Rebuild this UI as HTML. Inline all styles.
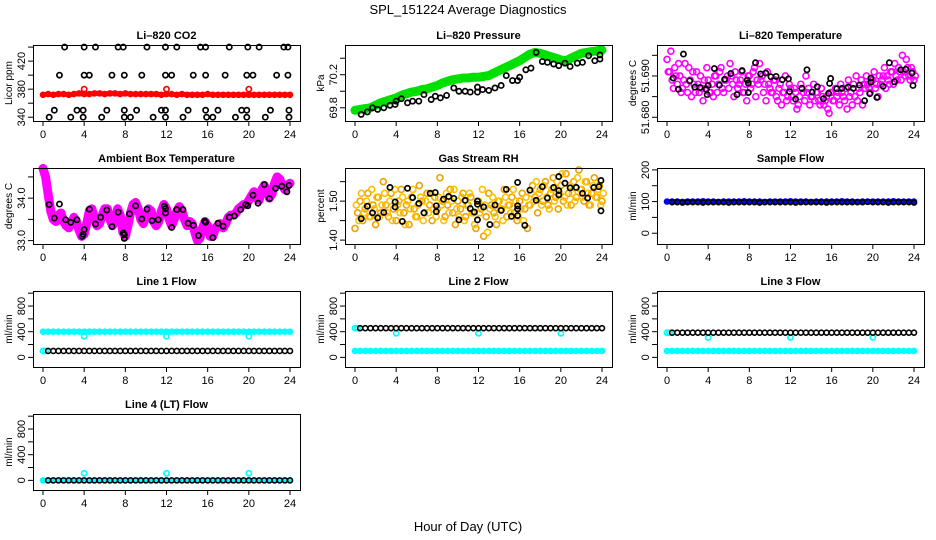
<!DOCTYPE html>
<html><head><meta charset="utf-8">
<style>
html,body{margin:0;padding:0;background:#fff;}
svg{display:block;font-family:"Liberation Sans",Arial,sans-serif;}
</style></head>
<body>
<svg id="chart" width="936" height="540" viewBox="0 0 936 540" xmlns="http://www.w3.org/2000/svg">
<text x="468" y="14" font-size="13" text-anchor="middle">SPL_151224  Average Diagnostics</text>
<text x="468" y="531" font-size="13" text-anchor="middle">Hour of Day (UTC)</text>
</svg>
<script>
// ---------- data ----------
const hourTicks = [0,4,8,12,16,20,24];

const co2Red = [372,373,372,373,373,372,373,374,373,373,374,374,373,374,374,373,374,373,373,373,373,373,373,372,373,373,372,373,372,372,372,372,373,372,372,372,372,372,372,372,372,372,372,372,372,372,372,372,372];
const co2RedOutX = [4,12,20];
const co2RedOutY = [380,380,380];
const co2BlackX = [2.1,4,5.1,7.3,7.8,10.1,11.9,13,15.3,15.8,18.1,19.9,21,23.4,23.8, 1.6,4,4.5,6.7,7.9,9.6,11.9,12.5,14.6,15.8,17.7,19.8,20.4,22.7,23.8, 1.1,3.3,3.9,6.2,7.9,9.1,11.5,11.9,14.1,15.8,17,19.3,19.8,22.1,23.9, 0.6,2.7,3.9,5.7,7.9,8.5,10.7,11.9,13.6,15.9,16.5,18.7,19.8,21.6,23.9];
const co2BlackY = [440,440,440,440,440,440,440,440,440,440,440,440,440,440,440, 400,400,400,400,400,400,400,400,400,400,400,400,400,400,400, 350,350,350,350,350,350,350,350,350,350,350,350,350,350,350, 340,340,340,340,340,340,340,340,340,340,340,340,340,340,340];

const presGreen = [69.77,69.78,69.79,69.80,69.83,69.86,69.88,69.90,69.92,69.95,69.97,69.99,70.00,70.02,70.03,70.05,70.07,70.10,70.12,70.14,70.15,70.16,70.16,70.17,70.17,70.18,70.19,70.22,70.25,70.28,70.31,70.34,70.37,70.41,70.45,70.47,70.46,70.44,70.42,70.40,70.38,70.37,70.40,70.43,70.46,70.47,70.48,70.49,70.50];
const presBlackX = [0.6,1.2,1.7,2.2,2.8,3.4,3.9,4.0,4.5,5.1,5.6,6.2,6.7,7.4,7.8,8.3,8.9,9.6,10.1,10.7,11.2,11.9,11.9,12.4,13.0,13.6,14.2,14.7,15.3,15.8,16.0,16.6,17.1,17.6,18.2,18.7,19.3,19.8,20.4,20.9,21.6,22.1,22.7,23.3,23.8,23.8];
const presBlackY = [69.72,69.75,69.80,69.78,69.80,69.83,69.84,69.88,69.91,69.86,69.88,69.88,69.96,69.90,69.94,69.92,69.95,70.04,70.00,70.00,69.99,69.99,70.05,70.02,70.01,70.04,70.07,70.19,70.13,70.13,70.17,70.26,70.28,70.47,70.36,70.35,70.33,70.31,70.34,70.30,70.34,70.35,70.43,70.37,70.39,70.44];

const tempMag = [51.694,51.691,51.689,51.692,51.688,51.690,51.687,51.693,51.686,51.689,51.691,51.686,51.688,51.690,51.684,51.687,51.689,51.686,51.685,51.690,51.688,51.692,51.686,51.689,51.687,51.690,51.685,51.689,51.688,51.691,51.686,51.684,51.690,51.688,51.692,51.689,51.693,51.690,51.688,51.691,51.687,51.686,51.689,51.684,51.688,51.686,51.690,51.685,51.687,51.684,51.686,51.683,51.688,51.686,51.690,51.687,51.685,51.688,51.686,51.684,51.687,51.683,51.685,51.681,51.686,51.684,51.685,51.683,51.686,51.684,51.682,51.685,51.683,51.685,51.684,51.686,51.683,51.687,51.688,51.686,51.689,51.687,51.685,51.688,51.690,51.687,51.689,51.691,51.688,51.690,51.692,51.689,51.691,51.694,51.690,51.692,51.689];
const tempMag2 = [51.691,51.696,51.687,51.690,51.693,51.686,51.689,51.688,51.692,51.685,51.688,51.691,51.686,51.687,51.689,51.692,51.686,51.688,51.690,51.686,51.691,51.687,51.689,51.690,51.693,51.688,51.691,51.687,51.689,51.686,51.688,51.690,51.687,51.691,51.685,51.688,51.689,51.686,51.684,51.688,51.686,51.689,51.685,51.687,51.683,51.686,51.684,51.688,51.685,51.687,51.682,51.685,51.687,51.684,51.686,51.683,51.685,51.684,51.686,51.683,51.685,51.684,51.682,51.686,51.684,51.687,51.686,51.688,51.685,51.687,51.689,51.686,51.688,51.690,51.687,51.689,51.688,51.690,51.687,51.689,51.691,51.688,51.690,51.689,51.692,51.690,51.688,51.691,51.693,51.689,51.691,51.695,51.690,51.692,51.689,51.691,51.690];
const tempBlackX = [0.6,1.1,1.6,2.2,2.7,3.2,3.8,3.9,4.0,4.6,5.1,5.6,6.2,6.8,7.3,7.8,7.9,7.9,8.6,9.1,9.6,10.1,10.6,11.2,11.8,11.9,12.5,13.1,13.6,14.1,14.6,15.2,15.7,15.8,15.9,16.5,17.0,17.6,18.1,18.7,19.2,19.7,19.8,19.8,20.4,21.0,21.6,22.1,22.7,23.2,23.8,23.9];
const tempBlackY = [51.6895,51.6868,51.6953,51.6888,51.6873,51.6872,51.6868,51.6855,51.6877,51.6918,51.6878,51.6892,51.6906,51.6855,51.6913,51.6890,51.6860,51.6883,51.6932,51.6905,51.6907,51.6898,51.6899,51.6891,51.6893,51.6862,51.6844,51.6870,51.6915,51.6861,51.6874,51.6845,51.6858,51.6882,51.6894,51.6869,51.6870,51.6873,51.6870,51.6878,51.6840,51.6857,51.6895,51.6885,51.6848,51.6875,51.6932,51.6886,51.6915,51.6916,51.6907,51.6877];

const ambMag = [34.7,34.5,34.1,33.7,33.5,33.45,33.6,33.65,33.45,33.35,33.3,33.4,33.55,33.45,33.25,33.1,33.15,33.4,33.7,33.75,33.5,33.35,33.4,33.6,33.75,33.75,33.5,33.35,33.5,33.75,33.6,33.2,33.1,33.35,33.65,33.85,33.9,33.75,33.5,33.4,33.55,33.75,33.7,33.45,33.35,33.45,33.7,33.85,33.75,33.5,33.35,33.5,33.7,33.8,33.7,33.5,33.35,33.45,33.4,33.2,33.0,33.05,33.3,33.45,33.35,33.1,33.1,33.3,33.35,33.4,33.3,33.4,33.55,33.6,33.6,33.65,33.75,33.8,33.85,33.85,33.95,34.05,34.15,34.0,33.95,34.2,34.3,34.15,34.0,34.1,34.35,34.5,34.45,34.3,34.2,34.3,34.35];
const ambBlackX = [0.6,1.1,1.6,2.2,2.7,3.3,3.8,3.9,4.0,4.5,5.1,5.6,6.2,6.7,7.3,7.8,7.9,7.9,8.4,9.0,9.6,10.1,10.6,11.2,11.8,11.9,11.9,12.5,13.0,13.6,14.1,14.6,15.1,15.7,15.8,16.5,17.0,17.5,18.1,18.6,19.2,19.7,19.9,20.4,20.9,21.5,22.0,22.6,23.2,23.7,23.9];
const ambBlackY = [33.85,33.53,33.86,33.49,33.43,33.49,33.10,33.15,33.26,33.74,33.39,33.55,33.72,33.33,33.67,33.18,33.05,33.14,33.63,33.82,33.51,33.74,33.47,33.49,33.81,33.75,33.65,33.31,33.73,33.73,33.41,33.36,33.12,33.46,33.43,33.07,33.41,33.34,33.55,33.58,33.73,33.85,33.82,34.07,33.88,34.32,33.99,34.23,34.28,34.15,34.30];

const rhA = [1.43,1.47,1.50,1.45,1.48,1.52,1.46,1.49,1.44,1.51,1.47,1.55,1.49,1.46,1.52,1.48,1.45,1.50,1.53,1.47,1.49,1.44,1.51,1.48,1.46,1.54,1.50,1.47,1.52,1.49,1.45,1.51,1.48,1.56,1.50,1.46,1.49,1.53,1.47,1.44,1.50,1.48,1.52,1.46,1.49,1.51,1.47,1.43,1.50,1.48,1.41,1.46,1.52,1.49,1.47,1.44,1.50,1.48,1.53,1.46,1.49,1.51,1.47,1.45,1.50,1.52,1.48,1.43,1.49,1.54,1.51,1.47,1.53,1.50,1.55,1.49,1.52,1.56,1.51,1.48,1.54,1.50,1.57,1.52,1.49,1.55,1.51,1.58,1.53,1.50,1.55,1.49,1.52,1.56,1.51,1.54,1.50];
const rhB = [1.49,1.45,1.52,1.47,1.50,1.46,1.53,1.48,1.51,1.46,1.49,1.52,1.47,1.50,1.45,1.53,1.49,1.47,1.51,1.44,1.50,1.48,1.53,1.46,1.49,1.51,1.45,1.50,1.47,1.52,1.48,1.46,1.51,1.49,1.45,1.52,1.47,1.50,1.53,1.48,1.46,1.51,1.45,1.49,1.52,1.47,1.44,1.50,1.47,1.53,1.49,1.42,1.48,1.51,1.46,1.50,1.48,1.45,1.51,1.49,1.47,1.53,1.50,1.46,1.48,1.45,1.51,1.49,1.52,1.50,1.55,1.52,1.49,1.54,1.51,1.48,1.53,1.50,1.55,1.52,1.57,1.51,1.49,1.54,1.52,1.50,1.56,1.53,1.51,1.55,1.52,1.49,1.54,1.51,1.53,1.49,1.52];
const rhBlackX = [0.6,1.2,1.7,2.2,2.8,3.4,3.9,3.9,4.6,5.1,5.6,6.2,6.7,7.3,7.8,7.9,7.9,8.6,9.1,9.6,10.1,10.7,11.2,11.6,11.9,11.9,11.9,12.5,13.1,13.6,14.2,14.7,15.2,15.8,15.8,15.8,15.8,16.5,17.0,17.6,18.2,18.7,19.3,19.8,19.8,19.8,20.4,20.9,21.5,22.1,22.6,23.2,23.7,23.9,23.9];
const rhBlackY = [1.455,1.487,1.470,1.457,1.471,1.535,1.498,1.485,1.448,1.533,1.509,1.494,1.470,1.520,1.522,1.488,1.473,1.505,1.512,1.507,1.452,1.502,1.481,1.472,1.452,1.500,1.492,1.485,1.440,1.490,1.476,1.530,1.461,1.548,1.488,1.463,1.480,1.438,1.528,1.502,1.537,1.508,1.535,1.563,1.527,1.516,1.546,1.534,1.535,1.520,1.508,1.535,1.537,1.553,1.475];

const sampBlue = [100,100,100,99,100,100,100,101,100,100,99,100,100,100,100,101,100,100,100,99,100,100,100,100,101,100,100,100,99,100,100,100,100,100,101,100,100,99,100,100,100,100,100,100,101,100,100,100,100];
const sampBlack = [98,98,97,98,98,98,97,98,98,98,98,97,98,98,98,98,98,97,98,98,98,98,98,98,97,98,98,98,98,98,97,98,98,98,98,98,98,98,99,98,98,98,97,98,98,98,98,97];

const l1Cyan = [400,400,400,400,400,400,400,400,400,400,400,400,400,400,400,400,400,400,400,400,400,400,400,400,400,400,400,400,400,400,400,400,400,400,400,400,400,400,400,400,400,400,400,400,400,400,400,400,400];
const l1CyanLowX = [0,0.25];
const l1CyanLowY = [100,100];
const l1Black = [100,100,100,100,100,100,100,100,100,100,100,100,100,100,100,100,100,100,100,100,100,100,100,100,100,100,100,100,100,100,100,100,100,100,100,100,100,100,100,100,100,100,100,100,100,100,100,100];
const l1OutX = [4,12,20];
const l1OutY = [330,330,330];

const l2Cyan = [100,100,100,100,100,100,100,100,100,100,100,100,100,100,100,100,100,100,100,100,100,100,100,100,100,100,100,100,100,100,100,100,100,100,100,100,100,100,100,100,100,100,100,100,100,100,100,100,100];
const l2CyanHighX = [0,0.25];
const l2CyanHighY = [455,455];
const l2Black = [455,455,455,455,455,455,455,455,455,455,455,455,455,455,455,455,455,455,455,455,455,455,455,455,455,455,455,455,455,455,455,455,455,455,455,455,455,455,455,455,455,455,455,455,455,455,455,455];
const l2OutX = [4,12,20];
const l2OutY = [375,375,375];

const l3Cyan = [100,100,100,100,100,100,100,100,100,100,100,100,100,100,100,100,100,100,100,100,100,100,100,100,100,100,100,100,100,100,100,100,100,100,100,100,100,100,100,100,100,100,100,100,100,100,100,100,100];
const l3CyanHighX = [0,0.25];
const l3CyanHighY = [385,385];
const l3Black = [385,385,385,385,385,385,385,385,385,385,385,385,385,385,385,385,385,385,385,385,385,385,385,385,385,385,385,385,385,385,385,385,385,385,385,385,385,385,385,385,385,385,385,385,385,385,385,385];
const l3OutX = [4,12,20];
const l3OutY = [310,310,310];

const l4Cyan = [0,0,0,0,0,0,0,0,0,0,0,0,0,0,0,0,0,0,0,0,0,0,0,0,0,0,0,0,0,0,0,0,0,0,0,0,0,0,0,0,0,0,0,0,0,0,0,0,0];
const l4Black = [0,0,0,0,0,0,0,0,0,0,0,0,0,0,0,0,0,0,0,0,0,0,0,0,0,0,0,0,0,0,0,0,0,0,0,0,0,0,0,0,0,0,0,0,0,0,0,0];
const l4OutX = [4,12,20];
const l4OutY = [110,110,110];

// ---------- drawing ----------
const NS = "http://www.w3.org/2000/svg";
const svg = document.getElementById("chart");
const colLeft = [33,345,657], rowTop = [45,168,291,414], W = 267, H = 76;

function mk(tag, attrs, parent){
  const e = document.createElementNS(NS, tag);
  for (const k in attrs) e.setAttribute(k, attrs[k]);
  (parent||svg).appendChild(e);
  return e;
}

function panel(name, col, row, title, ylab, ymin, ymax, ticks, labels){
  const L = colLeft[col], T = rowTop[row];
  const g = mk("g", {});
  
  
  const xs = h => L + 10 + h / 24 * 247;
  const ys = v => T + H - (v - ymin) / (ymax - ymin) * H;
  const t = mk("text", {x: L + W/2, y: T - 6, "font-size": 11, "font-weight": "bold", "text-anchor": "middle"}, g);
  t.textContent = title;
  
  
  const yl = mk("text", {x: 0, y: 0, "font-size": 10, "text-anchor": "middle", transform: `translate(${L-21},${T+H/2}) rotate(-90)`}, g);
  yl.textContent = ylab;
  
  
  const ax = mk("g", {stroke: "#000", "stroke-width": 1}, g);
  
  
  hourTicks.forEach(h => {
    mk("line", {x1: xs(h), x2: xs(h), y1: T+H, y2: T+H+5}, ax);
    const tx = mk("text", {x: xs(h), y: T+H+17, "font-size": 11, "text-anchor": "middle", stroke: "none"}, g);
    tx.textContent = h;
    
    
  });
  ticks.forEach(v => {
    mk("line", {x1: L-5, x2: L, y1: ys(v), y2: ys(v)}, ax);
  });
  labels.forEach(v => {
    const tl = mk("text", {x: 0, y: 0, "font-size": 11, "text-anchor": "middle", transform: `translate(${L-8},${ys(+v)}) rotate(-90)`}, g);
    tl.textContent = v;
    
    
  });
  const plot = mk("g", {}, g);
  
  
  const box = mk("rect", {x: L+0.5, y: T+0.5, width: W, height: H, fill: "none", stroke: "#000", "stroke-width": 1}, g);
  
  
  return {xs, ys, plot, name};
}

function band(p, start, step, vals, color, lw, r, sname){
  const g = mk("g", {fill: "none", stroke: color}, p.plot);
  
  
  if (lw > 0) {
    const pts = vals.map((v,i) => p.xs(start + i*step).toFixed(1) + "," + p.ys(v).toFixed(1)).join(" ");
    const pl = mk("polyline", {points: pts, "stroke-width": lw, "stroke-linejoin": "round", "stroke-linecap": "round"}, g);
    
    
  }
  vals.forEach((v,i) => {
    const c = mk("circle", {cx: p.xs(start + i*step), cy: p.ys(v), r: r, "stroke-width": 1.6}, g);
    
    
  });
}

function pts(p, xv, yv, color, sname, fill){
  const g = mk("g", {fill: fill || "none", stroke: color}, p.plot);
  
  
  xv.forEach((x,i) => {
    const c = mk("circle", {cx: p.xs(x), cy: p.ys(yv[i]), r: 2.6, "stroke-width": 1.7}, g);
    
    
  });
}

// Li-820 CO2
let p = panel("co2", 0, 0, "Li\u2013820 CO2", "Licor ppm", 334.6, 443, [340,360,380,400,420,440], ["340","380","420"]);
band(p, 0, 0.5, co2Red, "#ff0000", 5, 2.5, "co2-red");
pts(p, co2RedOutX, co2RedOutY, "#ff0000", "co2-red-outlier");
pts(p, co2BlackX, co2BlackY, "#000", "co2-black");

// Pressure
p = panel("pressure", 1, 0, "Li\u2013820 Pressure", "kPa", 69.64, 70.56, [69.8,70.0,70.2,70.4], ["69.8","70.2"]);
band(p, 0, 0.5, presGreen, "#00e000", 9, 3, "pressure-green");
pts(p, presBlackX, presBlackY, "#000", "pressure-black");

// Temperature
p = panel("temperature", 2, 0, "Li\u2013820 Temperature", "degrees C", 51.6791, 51.6975, [51.680,51.685,51.690,51.695], ["51.680","51.690"]);
band(p, 0, 0.25, tempMag, "#ff00ff", 0, 3, "temperature-magenta");
band(p, 0.125, 0.25, tempMag2, "#ff00ff", 0, 3, "temperature-magenta-2");
pts(p, tempBlackX, tempBlackY, "#000", "temperature-black");

// Ambient box temperature
p = panel("ambient", 0, 1, "Ambient Box Temperature", "degrees C", 32.92, 34.71, [33.0,33.5,34.0,34.5], ["33.0","34.0"]);
band(p, 0, 0.25, ambMag, "#ff00ff", 9, 3, "ambient-magenta");
pts(p, ambBlackX, ambBlackY, "#000", "ambient-black");

// Gas stream RH
p = panel("rh", 1, 1, "Gas Stream RH", "percent", 1.39, 1.585, [1.40,1.45,1.50,1.55], ["1.40","1.50"]);
band(p, 0, 0.25, rhA, "#f0a000", 0, 3, "rh-orange");
band(p, 0.125, 0.25, rhB, "#ffc000", 0, 3, "rh-yellow");
pts(p, rhBlackX, rhBlackY, "#000", "rh-black");

// Sample flow
p = panel("sample-flow", 2, 1, "Sample Flow", "ml/min", -34, 206, [0,50,100,150,200], ["0","100","200"]);
band(p, 0, 0.5, sampBlue, "#0000ff", 5, 2.5, "sample-blue");
band(p, 0.5, 0.5, sampBlack, "#000", 0, 2.5, "sample-black");

const flowTicks = [0,200,400,600,800,1000], flowLabels = ["0","400","800"];
// Line 1
p = panel("line1", 0, 2, "Line 1 Flow", "ml/min", -150, 1034, flowTicks, flowLabels);
band(p, 0, 0.5, l1Cyan, "#00ffff", 5, 2.5, "line1-cyan");
pts(p, l1CyanLowX, l1CyanLowY, "#00ffff", "line1-cyan-low");
band(p, 0.5, 0.5, l1Black, "#000", 0, 2.5, "line1-black");
pts(p, l1OutX, l1OutY, "#00ffff", "line1-cyan-outlier");
// Line 2
p = panel("line2", 1, 2, "Line 2 Flow", "ml/min", -150, 1034, flowTicks, flowLabels);
band(p, 0, 0.5, l2Cyan, "#00ffff", 5, 2.5, "line2-cyan");
pts(p, l2CyanHighX, l2CyanHighY, "#00ffff", "line2-cyan-high");
pts(p, l2OutX, l2OutY, "#00ffff", "line2-cyan-outlier");
band(p, 0.5, 0.5, l2Black, "#000", 0, 2.5, "line2-black");
// Line 3
p = panel("line3", 2, 2, "Line 3 Flow", "ml/min", -150, 1034, flowTicks, flowLabels);
band(p, 0, 0.5, l3Cyan, "#00ffff", 5, 2.5, "line3-cyan");
pts(p, l3CyanHighX, l3CyanHighY, "#00ffff", "line3-cyan-high");
pts(p, l3OutX, l3OutY, "#00ffff", "line3-cyan-outlier");
band(p, 0.5, 0.5, l3Black, "#000", 0, 2.5, "line3-black");
// Line 4
p = panel("line4", 0, 3, "Line 4 (LT) Flow", "ml/min", -150, 1034, flowTicks, flowLabels);
band(p, 0, 0.5, l4Cyan, "#00ffff", 5, 2.5, "line4-cyan");
band(p, 0.5, 0.5, l4Black, "#000", 0, 2.5, "line4-black");
pts(p, l4OutX, l4OutY, "#00ffff", "line4-cyan-outlier");
</script>
</body></html>
